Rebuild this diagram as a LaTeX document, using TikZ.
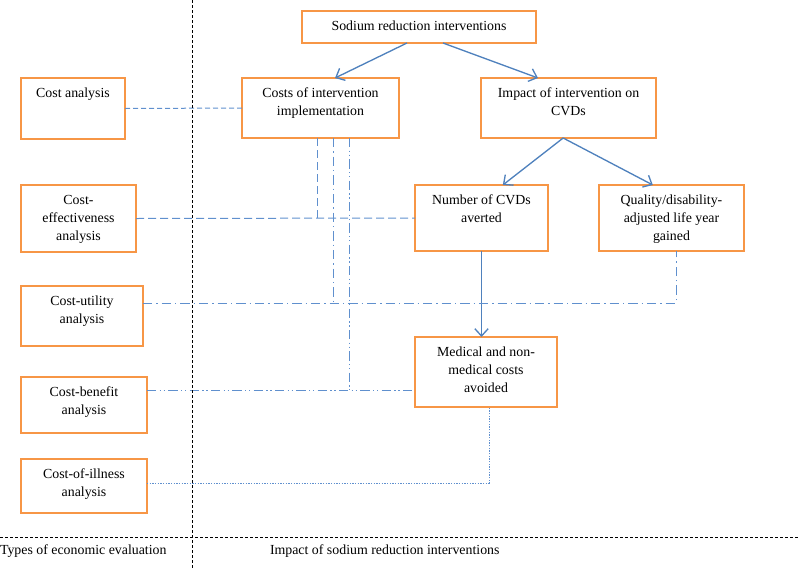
\documentclass[tikz,border=0pt]{standalone}
\usepackage{fontspec}
\setmainfont{Liberation Serif}
\usetikzlibrary{positioning,arrows.meta}
\definecolor{boxorange}{RGB}{247,150,70}
\definecolor{linkblue}{RGB}{79,129,189}
\definecolor{lightlink}{RGB}{96,144,206}
\tikzset{
  evalbox/.style={draw=boxorange, line width=2.2pt, inner sep=0pt, outer sep=0pt},
  boxtext/.style={align=center, inner sep=0pt, outer sep=0pt, font=\fontsize{10.4}{13.6}\selectfont},
  flow/.style={linkblue, line width=1pt, -{Straight Barb[length=5.5pt,width=10pt]}},
  divider/.style={black, line width=0.7pt, dash pattern=on 2.25pt off 1.5pt},
  cafl/.style={lightlink, line width=0.75pt, dash pattern=on 3.75pt off 2.25pt},
  ceafl/.style={lightlink, line width=0.75pt, dash pattern=on 6pt off 3pt},
  cuafl/.style={lightlink, line width=0.75pt, dash pattern=on 7pt off 3pt on 1pt off 3pt},
  cbafl/.style={lightlink, line width=0.75pt, dash pattern=on 7pt off 2.5pt on 1pt off 2pt on 1pt off 2.5pt},
  coifl/.style={lightlink, line width=0.75pt, dash pattern=on 1pt off 1pt}
}
\begin{document}
\begin{tikzpicture}[x=0.75pt,y=-0.75pt]
  \useasboundingbox (0,0) rectangle (800,568);
  % impact side
  \node[evalbox, minimum width=175.5pt, minimum height=24pt] (sodium) at (419,27) {};
  \node[evalbox, minimum width=117.75pt, minimum height=45pt] (costs) at (320.5,108) {};
  \node[evalbox, minimum width=131.25pt, minimum height=45pt] (impact) at (568.5,108) {};
  \node[evalbox, minimum width=99.75pt, minimum height=49.5pt] (cvds) at (481.5,218) {};
  \node[evalbox, minimum width=108.75pt, minimum height=49.5pt] (quality) at (671.5,218) {};
  \node[evalbox, minimum width=106.5pt, minimum height=52.5pt] (medical) at (486,372) {};
  % evaluation types
  \node[evalbox, minimum width=78pt, minimum height=45.75pt] (costan) at (73,108.5) {};
  \node[evalbox, minimum width=86.25pt, minimum height=50.25pt] (effect) at (78.5,218.5) {};
  \node[evalbox, minimum width=91.5pt, minimum height=45pt] (utility) at (82,316) {};
  \node[evalbox, minimum width=94.5pt, minimum height=42pt] (benefit) at (84,405) {};
  \node[evalbox, minimum width=94.5pt, minimum height=40.5pt] (illness) at (84,486) {};
  % box texts
  \node[boxtext, below=7.5pt of sodium.north] {Sodium reduction interventions};
  \node[boxtext, below=7.5pt of costs.north] {Costs of intervention\\implementation};
  \node[boxtext, below=7.5pt of impact.north] {Impact of intervention on\\CVDs};
  \node[boxtext, below=7.5pt of cvds.north] {Number of CVDs\\averted};
  \node[boxtext, below=7.5pt of quality.north] {Quality/disability-\\adjusted life year\\gained};
  \node[boxtext, below=7.5pt of medical.north] {Medical and non-\\medical costs\\avoided};
  \node[boxtext, below=7.5pt of costan.north] {Cost analysis};
  \node[boxtext, below=7.5pt of effect.north] {Cost-\\effectiveness\\analysis};
  \node[boxtext, below=7.5pt of utility.north] {Cost-utility\\analysis};
  \node[boxtext, below=7.5pt of benefit.north] {Cost-benefit\\analysis};
  \node[boxtext, below=7.5pt of illness.north] {Cost-of-illness\\analysis};
  % arrows
  \draw[flow] ([xshift=-9pt]sodium.south) -- ([xshift=10.9pt]costs.north);
  \draw[flow] ([xshift=18pt]sodium.south) -- ([xshift=-22.9pt]impact.north);
  \draw[flow] ([xshift=-4pt]impact.south) -- ([xshift=16pt]cvds.north);
  \draw[flow] ([xshift=-4pt]impact.south) -- ([xshift=-14pt]quality.north);
  \draw[flow] (cvds.south) -- (cvds.south |- medical.north);
  % links to the evaluation types
  \draw[cafl] (costan.east) -- (costs.west);
  \draw[ceafl] (effect.east) -- (cvds.west);
  \draw[ceafl] ([xshift=-2.6pt]costs.south) -- ([xshift=-2.6pt]costs.south |- cvds.west);
  \coordinate (uline) at (676,303);
  \draw[cuafl] (utility.east |- uline) -- (uline) -- (uline |- quality.south);
  \draw[cuafl] ([xshift=9.4pt]costs.south) -- ([xshift=9.4pt]costs.south |- uline);
  \coordinate (bline) at (415,390);
  \draw[cbafl] (benefit.east |- bline) -- (bline);
  \draw[cbafl] ([xshift=21.4pt]costs.south) -- ([xshift=21.4pt]costs.south |- bline);
  \coordinate (iline) at (489,483);
  \draw[coifl] (illness.east |- iline) -- (iline) -- (iline |- medical.south);
  % sides
  \draw[divider] (192,0) -- (192,568);
  \draw[divider] (0,537) -- (800,537);
  \node[boxtext, anchor=west] (typeslabel) at (0,551) {Types of economic evaluation};
  \node[boxtext, anchor=west] (impactlabel) at (270,551) {Impact of sodium reduction interventions};
\end{tikzpicture}
\end{document}
